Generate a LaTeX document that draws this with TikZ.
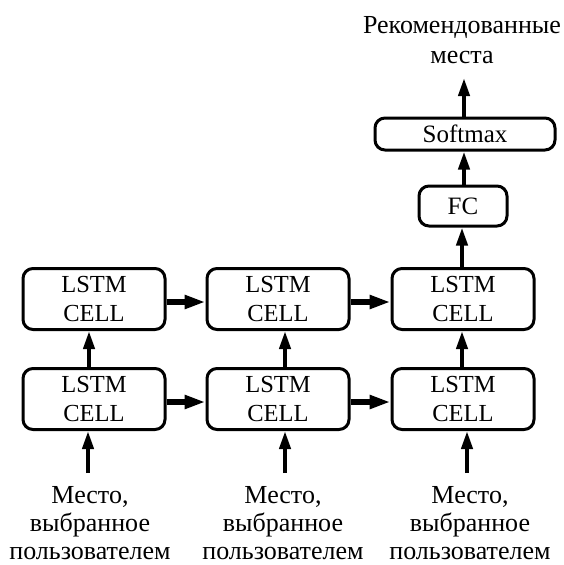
\documentclass[tikz,border=0pt]{standalone}
\usepackage{fontspec}
\setmainfont{Liberation Serif}
\usetikzlibrary{arrows.meta}
\begin{document}
\begin{tikzpicture}[x=1pt,y=-1pt,
  box/.style={draw, line width=3pt, rounded corners=10pt, align=center, inner sep=0pt},
  cell/.style={box, minimum width=142pt, minimum height=61pt, font=\fontsize{24.5}{29}\selectfont},
  lbl/.style={align=center, inner sep=0pt, font=\fontsize{26}{28}\selectfont},
  varr/.style={line width=4pt, -{Triangle[length=18pt,width=11pt]}},
  harr/.style={line width=5.5pt, -{Triangle[length=21pt,width=13pt]}}]
\useasboundingbox (0,0) rectangle (564,565);
% cells
\node[cell] (t1) at (94,299) {LSTM\\CELL};
\node[cell] (t2) at (278,299) {LSTM\\CELL};
\node[cell] (t3) at (463,299) {LSTM\\CELL};
\node[cell] (b1) at (94,399) {LSTM\\CELL};
\node[cell] (b2) at (278,399) {LSTM\\CELL};
\node[cell] (b3) at (463,399) {LSTM\\CELL};
\node[box, minimum width=88pt, minimum height=40pt, font=\fontsize{25}{28}\selectfont] (fc) at (463,206) {FC};
\node[box, minimum width=180pt, minimum height=32pt, font=\fontsize{25}{28}\selectfont] (sm) at (465,134) {Softmax};
\node[lbl, font=\fontsize{26}{30}\selectfont] (out) at (462,40) {Рекомендованные\\места};
\node[lbl] (in1) at (90,523) {Место,\\выбранное\\пользователем};
\node[lbl] (in2) at (283,523) {Место,\\выбранное\\пользователем};
\node[lbl] (in3) at (470,523) {Место,\\выбранное\\пользователем};
\coordinate (o) at (464,78);
\coordinate (s1) at (88,473);
\coordinate (s2) at (285,473);
\coordinate (s3) at (467,473);
% arrows
\draw[varr] (s1) -- (s1 |- b1.south);
\draw[varr] (s2) -- (s2 |- b2.south);
\draw[varr] (s3) -- (s3 |- b3.south);
\draw[varr] ([xshift=-5pt]b1.north) -- ([xshift=-5pt]t1.south);
\draw[varr] ([xshift=7pt]b2.north) -- ([xshift=7pt]t2.south);
\draw[varr] ([xshift=-1pt]b3.north) -- ([xshift=-1pt]t3.south);
\draw[harr] ([yshift=-3pt]t1.east) -- ([yshift=-3pt]t2.west);
\draw[harr] ([yshift=-3pt]t2.east) -- ([yshift=-3pt]t3.west);
\draw[harr] ([yshift=-3pt]b1.east) -- ([yshift=-3pt]b2.west);
\draw[harr] ([yshift=-3pt]b2.east) -- ([yshift=-3pt]b3.west);
\draw[varr] ([xshift=-1pt]t3.north) -- ([xshift=-1pt]fc.south);
\draw[varr] ([xshift=1pt]fc.north) -- ([xshift=-1pt]sm.south);
\draw[varr] ([xshift=-1pt]sm.north) -- (o);
\end{tikzpicture}
\end{document}
